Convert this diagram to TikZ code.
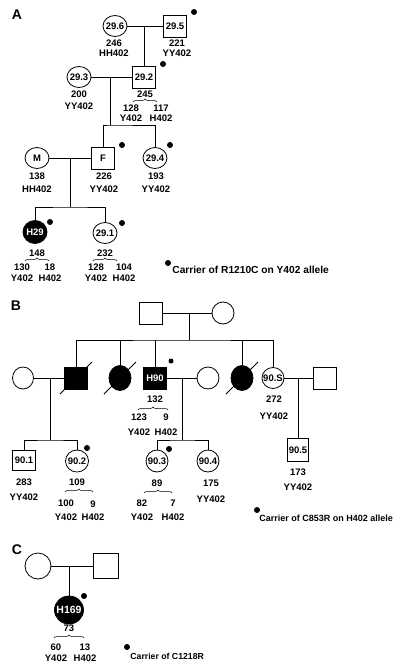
\documentclass[tikz,border=0pt]{standalone}
\usepackage{fontspec}
\setmainfont{Liberation Sans}
\usetikzlibrary{shapes.geometric,decorations.pathreplacing}
\tikzset{
  male/.style={draw, rectangle, minimum width=23, minimum height=22, inner sep=0,
    font=\bfseries\fontsize{9.5}{10}\selectfont},
  female/.style={draw, ellipse, minimum width=24, minimum height=21, inner sep=-3pt,
    font=\bfseries\fontsize{9.5}{10}\selectfont},
  sick/.style={fill=black, text=white},
  carrier/.style={circle, fill=black, inner sep=0, minimum size=6},
  txt/.style={inner sep=0, align=center, font=\bfseries\fontsize{9.5}{10}\selectfont},
  brc/.style={decorate, decoration={brace, amplitude=3pt}, line width=0.5pt},
  panel/.style={inner sep=0, font=\bfseries\fontsize{14}{14}\selectfont},
  legend/.style={anchor=west, inner sep=0, font=\bfseries\fontsize{9}{9}\selectfont},
}
\begin{document}
\begin{tikzpicture}[x=1pt, y=-1pt, line width=0.8pt]
    \useasboundingbox (0,0) rectangle (400,672);
    % panel A
    \node[panel] (lA) at (17,15) {A};
    \node[female] (a296) at (115,26) {29.6};
    \node[male] (a295) at (175,26) {29.5};
    \node[female] (a293) at (79,77) {29.3};
    \node[male] (a292) at (144,77) {29.2};
    \node[female] (aM) at (37,158) {M};
    \node[male] (aF) at (103,158) {F};
    \node[female] (a294) at (155,158) {29.4};
    \node[female, sick, minimum height=23] (aH29) at (35,232) {H29};
    \node[female] (a291) at (105,233) {29.1};
    \coordinate (jA1) at (144,26);
    \coordinate (jA2) at (110,77);
    \coordinate (sA2) at (110,125);
    \coordinate (jA3) at (70,158);
    \coordinate (sA3) at (70,207);
    \draw (a296) -- (a295);
    \draw (jA1) -- (a292);
    \draw (a293) -- (a292);
    \draw (jA2) -- (sA2);
    \draw (aF) |- (sA2) -| (a294);
    \draw (aM) -- (aF);
    \draw (jA3) -- (sA3);
    \draw (aH29) |- (sA3) -| (a291);
    \foreach \p [count=\i] in {(194,12), (163,64), (122,145), (170,145), (50,222), (122,223)}
        \node[carrier] (kA\i) at \p {};
    \node[txt] (tA296) at (114,48) {246\\HH402};
    \node[txt] (tA295) at (177,48) {221\\YY402};
    \node[txt] (tA293) at (79,100) {200\\[2pt]YY402};
    \node[txt] (tA292) at (145,94) {245};
    \draw[brc] (133,102) -- (157,102);
    \node[txt] (tA292y) at (131,113) {128\\Y402};
    \node[txt] (tA292h) at (161,113) {117\\H402};
    \node[txt] (tAM) at (37,182.5) {138\\[3pt]HH402};
    \node[txt] (tAF) at (104,182.5) {226\\[3pt]YY402};
    \node[txt] (tA294) at (156,182.5) {193\\[3pt]YY402};
    \node[txt] (tAH29) at (37,253) {148};
    \draw[brc] (25,261) -- (49,261);
    \node[txt] (tAH29y) at (22,273) {130\\[1pt]Y402};
    \node[txt] (tAH29h) at (50,273) {18\\[1pt]H402};
    \node[txt] (tA291) at (105,253) {232};
    \draw[brc] (93,261) -- (117,261);
    \node[txt] (tA291y) at (96,273) {128\\[1pt]Y402};
    \node[txt] (tA291h) at (124,273) {104\\[1pt]H402};
    \node[carrier] (kA) at (168,263) {};
    \node[legend, font=\bfseries\fontsize{10.2}{10}\selectfont] (legA) at (172,270) {Carrier of R1210C on Y402 allele};
    % panel B
    \node[panel] (lB) at (16,306) {B};
    \node[male] (b1) at (151,313) {};
    \node[female, minimum width=22, minimum height=22] (b2) at (223,313) {};
    \node[female, minimum width=21, minimum height=22] (b3) at (23,378) {};
    \node[male, sick] (b4) at (76,378) {};
    \node[female, sick, minimum width=22, minimum height=25] (b5) at (120,378) {};
    \node[male, sick] (b6) at (155,378) {H90};
    \node[female, minimum width=22, minimum height=22] (b7) at (208,378) {};
    \node[female, sick, minimum width=22, minimum height=25] (b8) at (242,378) {};
    \node[female, minimum width=22, minimum height=21] (b9) at (273,378) {90.S};
    \node[male] (b10) at (325,378) {};
    \node[male, minimum height=20] (b11) at (24,460) {90.1};
    \node[female, minimum width=23, minimum height=22] (b12) at (77,461) {90.2};
    \node[female, minimum width=22, minimum height=22] (b13) at (157,461) {90.3};
    \node[female, minimum width=22, minimum height=22] (b14) at (208,461) {90.4};
    \node[male, minimum width=21, minimum height=23] (b15) at (298,450) {90.5};
    \coordinate (jB1) at (189,313);
    \coordinate (sB1) at (189,340);
    \coordinate (jB2) at (50,378);
    \coordinate (sB2) at (50,440);
    \coordinate (jB3) at (182,378);
    \coordinate (sB3) at (182,440);
    \coordinate (jB4) at (298,378);
    \draw (b1) -- (b2);
    \draw (jB1) -- (sB1);
    \draw (b4) |- (sB1) -| (b9);
    \foreach \n in {b5,b6,b8}
        \draw (\n) -- (\n |- sB1);
    \draw (b3) -- (b4);
    \draw (jB2) -- (sB2);
    \draw (b11) |- (sB2) -| (b12);
    \draw (b6) -- (b7);
    \draw (jB3) -- (sB3);
    \draw (b13) |- (sB3) -| (b14);
    \draw (b9) -- (b10);
    \draw (jB4) -- (b15);
    \foreach \n in {b4,b5,b8}
        \draw ([shift={(-16,16)}]\n.center) -- ([shift={(16,-16)}]\n.center);
    \node[carrier, minimum size=5] (kB1) at (171,361) {};
    \node[carrier] (kB2) at (87,448) {};
    \node[carrier] (kB3) at (169,449) {};
    \node[txt] (tB6) at (155,399) {132};
    \draw[brc] (138,410) -- (168,410);
    \node[txt] (tB6y) at (139,424.5) {123\\[5pt]Y402};
    \node[txt] (tB6h) at (166,424.5) {9\\[5pt]H402};
    \node[txt] (tB9) at (274,407.5) {272\\[7pt]YY402};
    \node[txt] (tB11) at (24,489.5) {283\\[5pt]YY402};
    \node[txt] (tB12) at (77,482) {109};
    \draw[brc] (65,492) -- (93,492);
    \node[txt] (tB12y) at (66,510) {100\\[4pt]Y402};
    \node[txt] (tB12h) at (93,510.5) {9\\[3pt]H402};
    \node[txt] (tB13) at (157,483) {89};
    \draw[brc] (144,493) -- (172,493);
    \node[txt] (tB13y) at (142,510) {82\\[4pt]Y402};
    \node[txt] (tB13h) at (173,510) {7\\[4pt]H402};
    \node[txt] (tB14) at (211,491) {175\\[6pt]YY402};
    \node[txt] (tB15) at (298,479.5) {173\\[5pt]YY402};
    \node[carrier] (kB) at (257,510) {};
    \node[legend] (legB) at (259,518) {Carrier of C853R on H402 allele};
    % panel C
    \node[panel] (lC) at (17,550) {C};
    \node[female, minimum width=26, minimum height=26] (c1) at (38,566) {};
    \node[male, minimum width=25, minimum height=25] (c2) at (106,566) {};
    \node[female, sick, minimum width=29, minimum height=28,
          font=\bfseries\fontsize{10.5}{10}\selectfont] (c3) at (69,610) {H169};
    \coordinate (jC) at (69,566);
    \draw (c1) -- (c2);
    \draw (jC) -- (c3);
    \node[carrier] (kC1) at (84,596) {};
    \node[txt] (tC3) at (69,628) {73};
    \draw[brc] (54,638) -- (84,638);
    \node[txt] (tC3y) at (56,652.5) {60\\[1pt]Y402};
    \node[txt] (tC3h) at (85,652.5) {13\\[1pt]H402};
    \node[carrier] (kC) at (127,647) {};
    \node[legend, font=\bfseries\fontsize{8.7}{9}\selectfont] (legC) at (130,656) {Carrier of C1218R};
\end{tikzpicture}
\end{document}
